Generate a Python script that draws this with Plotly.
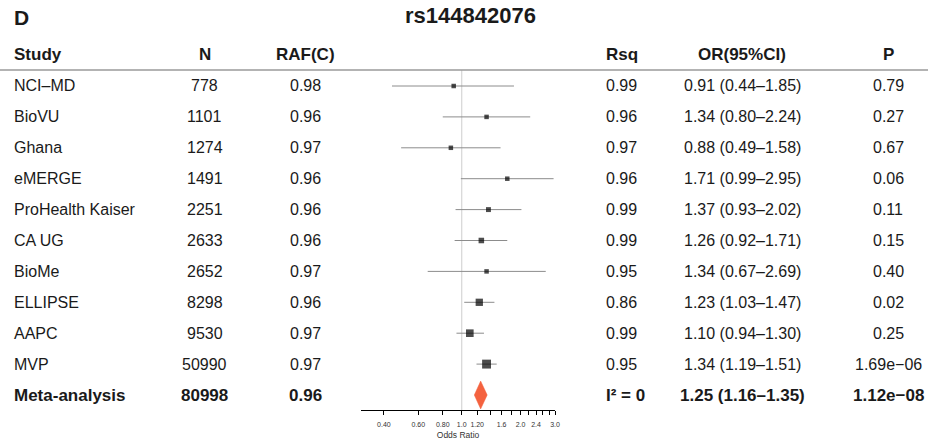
import numpy as np
import plotly.graph_objects as go

# ---------------- data ----------------
studies = ["NCI–MD", "BioVU", "Ghana", "eMERGE", "ProHealth Kaiser", "CA UG",
           "BioMe", "ELLIPSE", "AAPC", "MVP"]
n_vals = [778, 1101, 1274, 1491, 2251, 2633, 2652, 8298, 9530, 50990]
raf_vals = [0.98, 0.96, 0.97, 0.96, 0.96, 0.96, 0.97, 0.96, 0.97, 0.97]
rsq_vals = [0.99, 0.96, 0.97, 0.96, 0.99, 0.99, 0.95, 0.86, 0.99, 0.95]
or_vals = [0.91, 1.34, 0.88, 1.71, 1.37, 1.26, 1.34, 1.23, 1.10, 1.34]
lo_vals = [0.44, 0.80, 0.49, 0.99, 0.93, 0.92, 0.67, 1.03, 0.94, 1.19]
hi_vals = [1.85, 2.24, 1.58, 2.95, 2.02, 1.71, 2.69, 1.47, 1.30, 1.51]
p_vals = ["0.79", "0.27", "0.67", "0.06", "0.11", "0.15", "0.40", "0.02", "0.25", "1.69e−06"]

meta_label = "Meta-analysis"
meta_n = 80998
meta_raf = 0.96
meta_i2 = "I² = 0"
meta_or, meta_lo, meta_hi = 1.25, 1.16, 1.35
meta_p = "1.12e−08"

headers = ["Study", "N", "RAF(C)", "Rsq", "OR(95%CI)", "P"]
tick_vals = [0.4, 0.6, 0.8, 1.0, 1.2, 1.6, 2.0, 2.4, 3.0]
tick_text = ["0.40", "0.60", "0.80", "1.0", "1.20", "1.6", "2.0", "2.4", "3.0"]
minor_ticks = [1.4, 1.8, 2.2, 2.6, 2.8]

title = "rs144842076"
panel = "D"

# ---------------- layout helpers ----------------
W, H = 935, 445
FONT = "Liberation Sans, Arial, Helvetica, sans-serif"
TXT = "#1a1a1a"

def px(xp):
    return xp / W

def py(yp):
    return 1 - yp / H

row_top_px, row_step_px = 86, 30.9
plot_top_px, plot_bot_px = 70, 410
y_top = (plot_top_px - row_top_px) / row_step_px
y_bot = (plot_bot_px - row_top_px) / row_step_px

x_left_px, x_right_px = 363, 558
log_lo, log_hi = -0.5147, np.log10(3.0)

nrows = len(studies)
rows = list(range(nrows))
meta_row = nrows

fig = go.Figure()

# reference line at OR = 1
fig.add_trace(go.Scatter(x=[1, 1], y=[y_top, y_bot], mode="lines",
                         line=dict(color="#d6d6d6", width=1.2),
                         hoverinfo="skip", showlegend=False))

# CI lines
for r, lo, hi in zip(rows, lo_vals, hi_vals):
    fig.add_trace(go.Scatter(x=[lo, hi], y=[r, r], mode="lines",
                             line=dict(color="#8c8c8c", width=1),
                             hoverinfo="skip", showlegend=False))

# boxes sized by inverse standard error
se = [(np.log(h) - np.log(l)) / 3.92 for l, h in zip(lo_vals, hi_vals)]
sizes = [max(4.5, 2.2 * np.sqrt(1 / s)) for s in se]
fig.add_trace(go.Scatter(x=or_vals, y=rows, mode="markers",
                         marker=dict(symbol="square", color="black", size=sizes,
                                     line=dict(width=0)),
                         hoverinfo="skip", showlegend=False))

# diamond
dh = 0.45
fig.add_trace(go.Scatter(x=[meta_lo, meta_or, meta_hi, meta_or, meta_lo],
                         y=[meta_row, meta_row - dh, meta_row, meta_row + dh, meta_row],
                         mode="lines", fill="toself", fillcolor="#F4623F",
                         line=dict(color="#F4623F", width=0.5),
                         hoverinfo="skip", showlegend=False))

ann = []

def add_text(x, y, text, anchor="center", bold=False, size=16, yref="y"):
    ann.append(dict(x=px(x), y=y, xref="paper", yref=yref, text=f"<b>{text}</b>" if bold else text,
                    showarrow=False, xanchor=anchor, yanchor="middle",
                    font=dict(family=FONT, size=size, color=TXT)))

# headers
hdr_y = py(55)
col_x = [(12, "left"), (206, "center"), (307, "center"), (607, "left"), (746, "center"), (893, "center")]
for (x, a), h in zip(col_x, headers):
    add_text(x, hdr_y, h, anchor=a, bold=True, size=17, yref="paper")

for r in rows:
    add_text(12, r, studies[r], "left")
    add_text(206, r, str(n_vals[r]))
    add_text(307, r, f"{raf_vals[r]:.2f}")
    add_text(607, r, f"{rsq_vals[r]:.2f}", "left")
    add_text(746, r, f"{or_vals[r]:.2f} ({lo_vals[r]:.2f}–{hi_vals[r]:.2f})")
    add_text(893, r, p_vals[r])

MS = 17
add_text(12, meta_row, meta_label, "left", bold=True, size=MS)
add_text(206, meta_row, str(meta_n), bold=True, size=MS)
add_text(307, meta_row, f"{meta_raf:.2f}", bold=True, size=MS)
add_text(607, meta_row, meta_i2, "left", bold=True, size=MS)
add_text(746, meta_row, f"{meta_or:.2f} ({meta_lo:.2f}–{meta_hi:.2f})", bold=True, size=MS)
add_text(893, meta_row, meta_p, bold=True, size=MS)

# title + panel letter
ann.append(dict(x=px(473), y=py(16), xref="paper", yref="paper", text=f"<b>{title}</b>",
                showarrow=False, xanchor="center", yanchor="middle",
                font=dict(family=FONT, size=22, color=TXT)))
ann.append(dict(x=px(12), y=py(17), xref="paper", yref="paper", text=f"<b>{panel}</b>",
                showarrow=False, xanchor="left", yanchor="middle",
                font=dict(family=FONT, size=21, color=TXT)))

shapes = [dict(type="line", xref="paper", yref="paper", x0=0, x1=px(933),
               y0=py(70), y1=py(70), line=dict(color="#9a9a9a", width=1.5))]

fig.update_layout(
    width=W, height=H, margin=dict(l=0, r=0, t=0, b=0),
    paper_bgcolor="white", plot_bgcolor="white",
    annotations=ann, shapes=shapes, showlegend=False,
    xaxis=dict(type="log", range=[log_lo, log_hi], domain=[px(x_left_px), px(x_right_px)],
               showline=True, linecolor="black", linewidth=1, mirror=False,
               ticks="outside", ticklen=4, tickwidth=1, tickcolor="black",
               tickvals=tick_vals, ticktext=tick_text, showgrid=False, zeroline=False,
               tickfont=dict(family=FONT, size=7, color="#333333"),
               ticklabelstandoff=4,
               minor=dict(tickvals=minor_ticks, ticks="outside", ticklen=4,
                          tickcolor="black", showgrid=False),
               title=dict(text="Odds Ratio", font=dict(family=FONT, size=8.5, color="#333333"),
                          standoff=4),
               fixedrange=True),
    yaxis=dict(range=[y_bot, y_top], domain=[py(plot_bot_px), py(plot_top_px)],
               visible=False, fixedrange=True),
)

fig.write_html("out.html")
